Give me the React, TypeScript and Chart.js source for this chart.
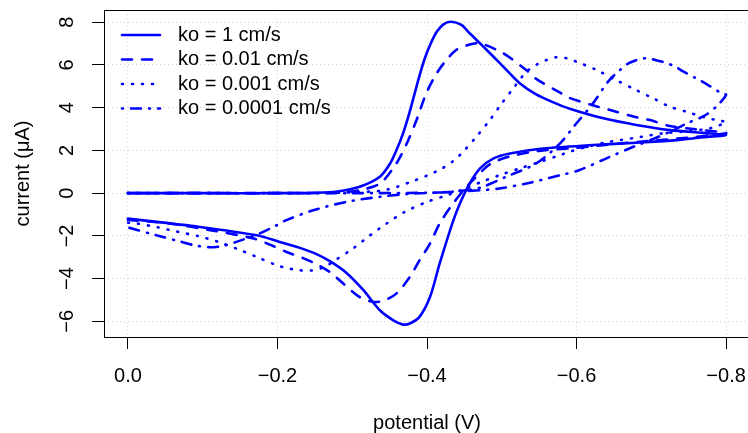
import { useEffect, useRef } from 'react';
import { Chart, registerables } from 'chart.js';

Chart.register(...registerables);

// ---------- data ----------
const seriesLabels = ['ko = 1 cm/s', 'ko = 0.01 cm/s', 'ko = 0.001 cm/s', 'ko = 0.0001 cm/s'];

const xTickValues = [0, -0.2, -0.4, -0.6, -0.8];
const yTickValues = [-6, -4, -2, 0, 2, 4, 6, 8];

// ko = 1 cm/s (forward then reverse scan)
const ko1Potential = [
  0, -0.1, -0.2, -0.25, -0.28, -0.31, -0.337, -0.35, -0.359, -0.368, -0.376, -0.383, -0.39, -0.397, -0.405, -0.413,
  -0.422, -0.432, -0.446, -0.457, -0.48, -0.502, -0.524, -0.546, -0.569, -0.591, -0.636, -0.68, -0.725, -0.769, -0.8,
  -0.769, -0.734, -0.68, -0.622, -0.555, -0.511, -0.489, -0.471, -0.457, -0.444, -0.435, -0.417, -0.404, -0.39,
  -0.377, -0.368, -0.355, -0.337, -0.315, -0.292, -0.27, -0.25, -0.23, -0.203, -0.172, -0.096, 0,
];
const ko1Current = [
  0, 0, 0, 0.02, 0.08, 0.3, 0.77, 1.35, 2.0, 2.8, 3.7, 4.6, 5.5, 6.3, 7.0, 7.55,
  7.9, 8.02, 7.87, 7.48, 6.7, 5.92, 5.14, 4.62, 4.25, 3.95, 3.5, 3.19, 2.95, 2.82, 2.72,
  2.62, 2.48, 2.36, 2.25, 2.09, 1.86, 1.63, 1.16, 0.45, -0.48, -1.3, -3.29, -4.86, -5.79,
  -6.1, -6.15, -5.95, -5.48, -4.54, -3.72, -3.18, -2.82, -2.56, -2.28, -1.97, -1.58, -1.19,
];

// ko = 0.01 cm/s
const ko2Potential = [
  0, -0.1, -0.2, -0.26, -0.29, -0.31, -0.337, -0.359, -0.373, -0.386, -0.399, -0.413, -0.426, -0.439, -0.455,
  -0.471, -0.502, -0.533, -0.546, -0.578, -0.591, -0.623, -0.645, -0.68, -0.698, -0.725, -0.756, -0.787, -0.8,
  -0.75, -0.7, -0.65, -0.6, -0.55, -0.511, -0.484, -0.466, -0.453, -0.435, -0.417, -0.404, -0.39, -0.377,
  -0.359, -0.341, -0.328, -0.31, -0.288, -0.27, -0.252, -0.235, -0.212, -0.194, -0.168, -0.11, -0.056, 0,
];
const ko2Current = [
  0, 0, 0, 0.01, 0.05, 0.14, 0.45, 1.39, 2.33, 3.42, 4.67, 5.61, 6.23, 6.7, 6.93,
  7.01, 6.54, 5.75, 5.35, 4.7, 4.45, 4.1, 3.89, 3.55, 3.42, 3.14, 3.0, 2.88, 2.8,
  2.6, 2.45, 2.3, 2.12, 1.98, 1.72, 1.35, 0.77, 0.3, -0.48, -1.42, -2.36, -3.14, -3.92,
  -4.7, -5.04, -5.09, -4.86, -4.23, -3.69, -3.32, -3.05, -2.75, -2.47, -2.12, -1.73, -1.42, -1.25,
];

// ko = 0.001 cm/s
const ko3Potential = [
  0, -0.1, -0.2, -0.26, -0.3, -0.34, -0.36, -0.38, -0.4, -0.42, -0.435, -0.45, -0.466, -0.484, -0.5, -0.517,
  -0.533, -0.546, -0.56, -0.573, -0.587, -0.6, -0.627, -0.653, -0.68, -0.703, -0.725, -0.747, -0.769, -0.791, -0.8,
  -0.78, -0.75, -0.716, -0.687, -0.658, -0.64, -0.615, -0.591, -0.578, -0.55, -0.524, -0.497, -0.473, -0.45,
  -0.43, -0.4, -0.37, -0.346, -0.324, -0.301, -0.277, -0.263, -0.245, -0.228, -0.212, -0.199, -0.172, -0.147,
  -0.121, -0.094, -0.067, -0.04, -0.012, 0,
];
const ko3Current = [
  0, 0, 0, 0.01, 0.04, 0.12, 0.3, 0.55, 0.82, 1.15, 1.5, 2.0, 2.64, 3.42, 4.2, 4.98,
  5.68, 6.0, 6.23, 6.36, 6.31, 6.15, 5.76, 5.29, 4.82, 4.43, 4.04, 3.81, 3.57, 3.39, 3.33,
  3.05, 2.9, 2.8, 2.64, 2.48, 2.38, 2.18, 1.94, 1.78, 1.45, 1.16, 0.84, 0.53, 0.2,
  -0.06, -0.41, -0.88, -1.42, -1.97, -2.59, -3.14, -3.45, -3.62, -3.6, -3.5, -3.37, -2.98, -2.62,
  -2.28, -2.01, -1.81, -1.6, -1.42, -1.38,
];

// ko = 0.0001 cm/s
const ko4Potential = [
  0, -0.1, -0.2, -0.3, -0.4, -0.43, -0.453, -0.475, -0.506, -0.546, -0.578, -0.598, -0.622, -0.642, -0.658,
  -0.671, -0.691, -0.709, -0.727, -0.745, -0.76, -0.776, -0.794, -0.8,
  -0.787, -0.77, -0.747, -0.725, -0.7, -0.676, -0.64, -0.604, -0.578, -0.533, -0.497, -0.471, -0.43, -0.381,
  -0.337, -0.292, -0.248, -0.212, -0.199, -0.176, -0.145, -0.127, -0.11, -0.09, -0.072, -0.038, 0,
];
const ko4Current = [
  0, 0, 0, 0, 0.02, 0.06, 0.14, 0.3, 0.77, 1.39, 2.33, 3.19, 4.2, 5.21, 5.76,
  6.1, 6.31, 6.2, 6.0, 5.65, 5.37, 5.06, 4.67, 4.6,
  4.05, 3.6, 3.26, 2.87, 2.5, 2.17, 1.63, 1.08, 0.84, 0.45, 0.22, 0.14, 0.05, -0.02,
  -0.17, -0.41, -0.8, -1.26, -1.5, -1.89, -2.28, -2.47, -2.53, -2.45, -2.28, -1.97, -1.6,
];

const seriesPotentials = [ko1Potential, ko2Potential, ko3Potential, ko4Potential];
const seriesCurrents = [ko1Current, ko2Current, ko3Current, ko4Current];
const seriesDashes: number[][] = [[], [10, 10], [1, 9], [1, 8, 10, 8]];

const FONT_FAMILY = '"Liberation Sans", Arial, Helvetica, sans-serif';
const FONT_SIZE = 20;
const LINE_COLOR = '#0000ff';

const fmtX = (v: number) => (Math.abs(v) < 1e-9 ? '0.0' : (v < 0 ? '\u2212' : '') + Math.abs(v).toFixed(1));
const fmtY = (v: number) => (v < 0 ? '\u2212' + Math.abs(v) : String(v));

const boxPlugin = {
  id: 'rbox',
  afterDraw(chart: any) {
    const { ctx, chartArea } = chart;
    ctx.save();
    ctx.strokeStyle = '#000';
    ctx.lineWidth = 1;
    ctx.strokeRect(
      Math.round(chartArea.left) + 0.5,
      Math.round(chartArea.top) + 0.5,
      Math.round(chartArea.right - chartArea.left),
      Math.round(chartArea.bottom - chartArea.top)
    );
    ctx.restore();
  },
};

const legendPlugin = {
  id: 'rlegend',
  afterDraw(chart: any) {
    const { ctx, chartArea } = chart;
    const x0 = chartArea.left + 18;
    const x1 = chartArea.left + 56;
    const tx = chartArea.left + 74;
    ctx.save();
    chart.data.datasets.forEach((ds: any, i: number) => {
      const y = chartArea.top + 25 + i * 24.5;
      ctx.strokeStyle = ds.borderColor;
      ctx.lineWidth = ds.borderWidth;
      ctx.lineCap = 'round';
      ctx.setLineDash(ds.borderDash || []);
      ctx.beginPath();
      ctx.moveTo(x0, y);
      ctx.lineTo(x1, y);
      ctx.stroke();
      ctx.setLineDash([]);
      ctx.fillStyle = '#000';
      ctx.font = `${FONT_SIZE}px ${FONT_FAMILY}`;
      ctx.textAlign = 'left';
      ctx.textBaseline = 'middle';
      ctx.fillText(ds.label, tx, y);
    });
    ctx.restore();
  },
};

export default function App() {
  const ref = useRef<HTMLCanvasElement | null>(null);

  useEffect(() => {
    if (!ref.current) return;
    Chart.defaults.color = '#000';
    const datasets = seriesLabels.map((label, s) => ({
      label,
      data: seriesPotentials[s].map((x, i) => ({ x, y: seriesCurrents[s][i] })),
      borderColor: LINE_COLOR,
      backgroundColor: LINE_COLOR,
      borderWidth: 2.6,
      borderDash: seriesDashes[s],
      borderCapStyle: 'round' as const,
      borderJoinStyle: 'round' as const,
      pointRadius: 0,
      pointHoverRadius: 0,
      showLine: true,
      fill: false,
      tension: 0.3,
    }));

    const tickFont = { family: FONT_FAMILY, size: FONT_SIZE };
    const chart = new Chart(ref.current, {
      type: 'scatter',
      data: { datasets },
      options: {
        animation: false,
        responsive: false,
        events: [],
        layout: { padding: { left: 0, top: 10, right: 10, bottom: 0 } },
        plugins: { legend: { display: false }, tooltip: { enabled: false } },
        scales: {
          x: {
            type: 'linear',
            reverse: true,
            min: -0.832,
            max: 0.032,
            afterBuildTicks: (scale: any) => {
              scale.ticks = xTickValues.map((v) => ({ value: v }));
            },
            afterFit: (scale: any) => {
              scale.height = 96;
              scale.paddingLeft = 0;
              scale.paddingRight = 0;
              scale.paddingTop = 0;
              scale.paddingBottom = 0;
            },
            grid: {
              color: '#d3d3d3',
              lineWidth: 1,
              drawTicks: true,
              tickLength: 12,
              tickColor: '#000',
              tickWidth: 1,
            },
            border: { display: false, dash: [1, 3] },
            ticks: {
              font: tickFont,
              color: '#000',
              padding: 15,
              maxRotation: 0,
              minRotation: 0,
              autoSkip: false,
              callback: (v: any) => fmtX(Number(v)),
            },
            title: {
              display: true,
              text: 'potential (V)',
              font: { family: FONT_FAMILY, size: FONT_SIZE, lineHeight: 1 },
              color: '#000',
              padding: { top: 0, bottom: 0 },
            },
          },
          y: {
            type: 'linear',
            min: -6.73,
            max: 8.57,
            afterBuildTicks: (scale: any) => {
              scale.ticks = yTickValues.map((v) => ({ value: v }));
            },
            afterFit: (scale: any) => {
              scale.width = 104;
              scale.paddingLeft = 0;
              scale.paddingRight = 0;
              scale.paddingTop = 0;
              scale.paddingBottom = 0;
            },
            grid: {
              color: '#d3d3d3',
              lineWidth: 1,
              drawTicks: true,
              tickLength: 12,
              tickColor: '#000',
              tickWidth: 1,
            },
            border: { display: false, dash: [1, 3] },
            ticks: {
              font: tickFont,
              color: '#000',
              padding: 13,
              minRotation: 90,
              maxRotation: 90,
              crossAlign: 'center',
              autoSkip: false,
              callback: (v: any) => fmtY(Number(v)),
            },
            title: {
              display: true,
              text: 'current (\u03bcA)',
              font: { family: FONT_FAMILY, size: FONT_SIZE, lineHeight: 1 },
              color: '#000',
              padding: { top: 13, bottom: 0 },
            },
          },
        },
      },
      plugins: [boxPlugin, legendPlugin],
    } as any);
    return () => chart.destroy();
  }, []);

  return (
    <div style={{ position: 'fixed', left: 0, top: 0, width: 748, height: 433, overflow: 'hidden', background: '#fff' }}>
      <canvas ref={ref} width={760} height={433} style={{ display: 'block', width: 760, height: 433 }} />
    </div>
  );
}
